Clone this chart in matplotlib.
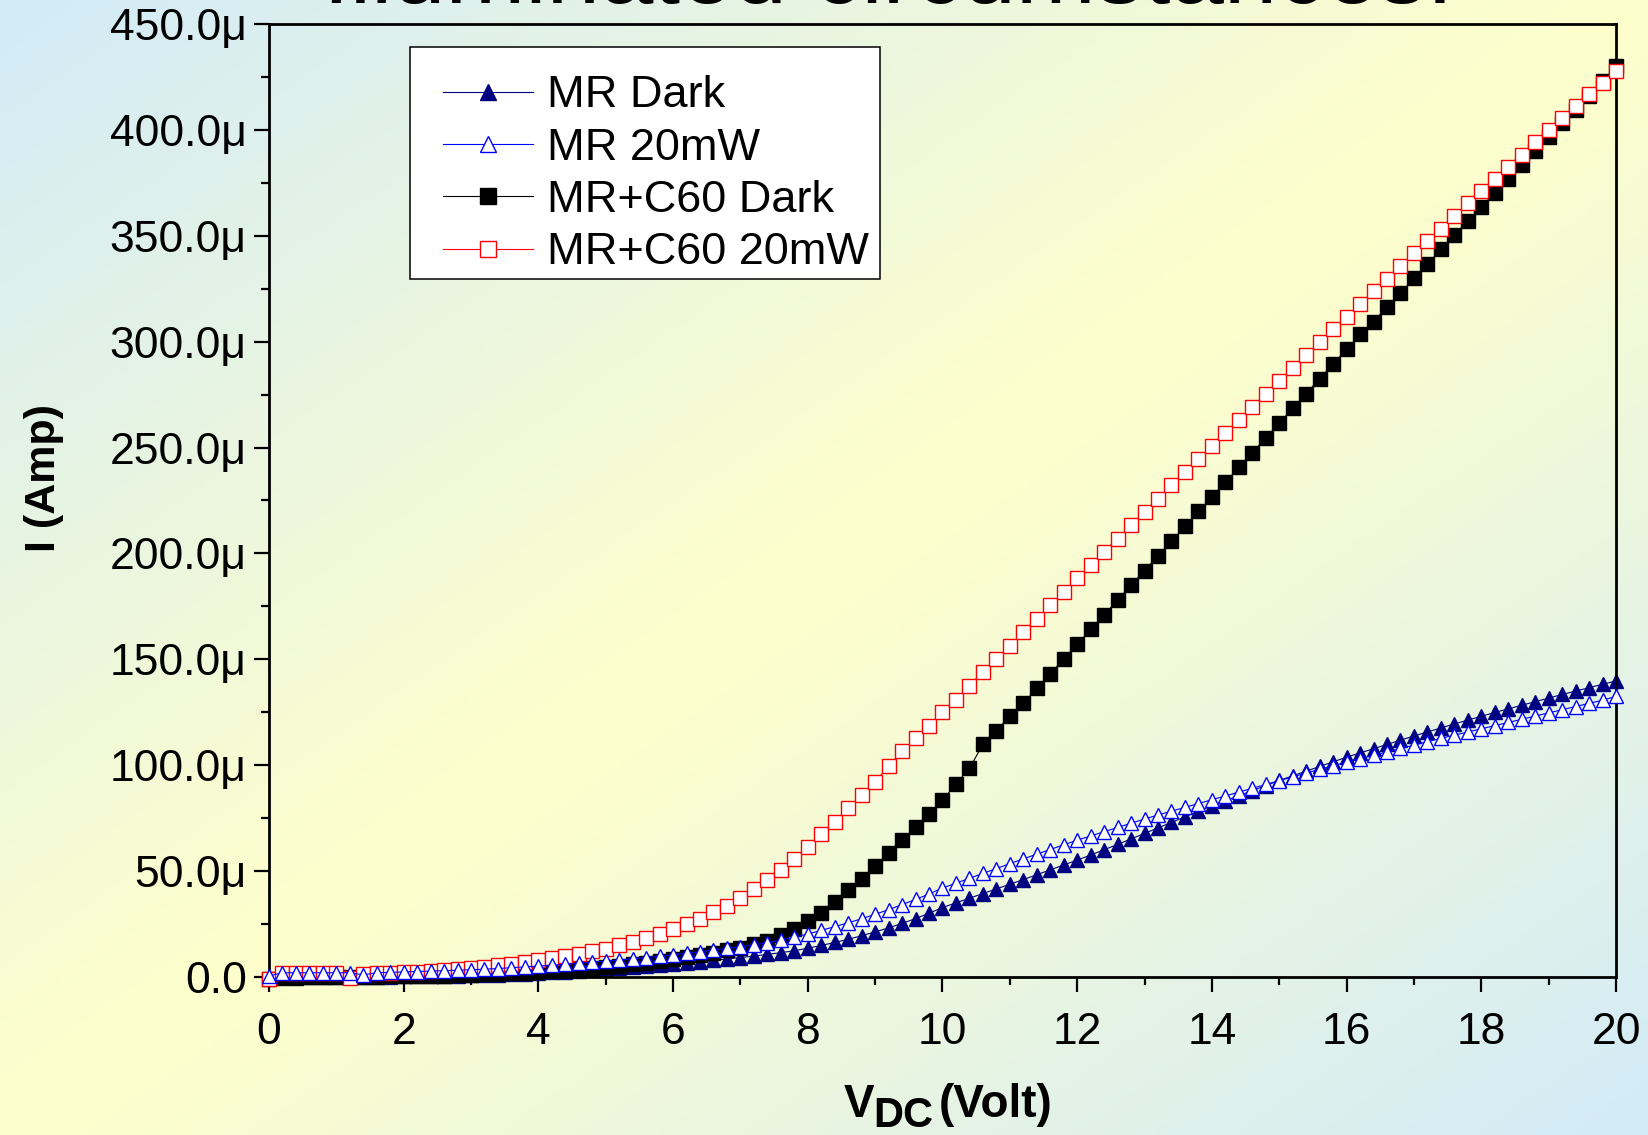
"""I-V curves of MR and MR+C60 devices, dark vs. 20 mW illumination."""

import matplotlib
matplotlib.use("Agg")
import matplotlib.pyplot as plt
import numpy as np
from matplotlib.colors import to_rgb
from matplotlib.patches import Rectangle
from matplotlib.ticker import FuncFormatter, MultipleLocator

plt.rcParams["font.family"] = ["Liberation Sans", "DejaVu Sans"]

# bias sweep, 0.2 V steps
v_dc = np.linspace(0, 20, 101)

# currents in microamps
mr_dark = [
    0.2, 0.0, 0.0, 0.0, 0.0, 0.1, 0.1, 0.1, 0.2, 0.2,
    0.3, 0.3, 0.4, 0.5, 0.6, 0.8, 0.9, 1.1, 1.3, 1.6,
    1.9, 2.2, 2.5, 2.9, 3.3, 3.7, 4.1, 4.6, 5.1, 5.6,
    6.1, 6.7, 7.3, 7.9, 8.5, 9.2, 9.9, 10.7, 11.5, 12.4,
    13.6, 14.9, 16.3, 17.8, 19.5, 21.3, 23.2, 25.3, 27.6, 30.1,
    32.8, 35.0, 37.2, 39.4, 41.6, 43.8, 46.0, 48.3, 50.6, 52.9,
    55.2, 57.6, 60.1, 62.6, 65.2, 67.8, 70.4, 73.0, 75.6, 78.2,
    80.8, 83.2, 85.6, 88.0, 90.4, 92.8, 95.0, 97.2, 99.4, 101.6,
    103.8, 105.8, 107.8, 109.8, 111.8, 113.8, 115.7, 117.6, 119.5, 121.3,
    123.1, 124.9, 126.6, 128.3, 130.0, 131.7, 133.4, 135.0, 136.6, 138.2,
    139.8,
]
mr_20mw = [
    0.5, 2.0, 2.0, 2.0, 2.0, 2.0, 2.0, 1.0, 2.0, 2.2,
    2.4, 2.6, 2.8, 3.0, 3.2, 3.4, 3.7, 4.0, 4.4, 4.8,
    5.2, 5.6, 6.0, 6.5, 7.0, 7.5, 8.0, 8.6, 9.2, 9.8,
    10.5, 11.2, 11.9, 12.7, 13.5, 14.3, 15.2, 16.2, 17.4, 18.8,
    20.3, 22.0, 23.8, 25.6, 27.5, 29.6, 31.8, 34.2, 36.6, 39.2,
    42.0, 44.3, 46.6, 48.9, 51.2, 53.5, 55.8, 58.0, 60.2, 62.4,
    64.6, 66.6, 68.6, 70.6, 72.6, 74.6, 76.5, 78.3, 80.1, 81.9,
    83.7, 85.5, 87.3, 89.1, 90.9, 92.7, 94.5, 96.3, 98.1, 99.8,
    101.5, 103.1, 104.7, 106.3, 107.9, 109.5, 111.1, 112.7, 114.2, 115.7,
    117.2, 118.7, 120.2, 121.7, 123.2, 124.7, 126.2, 127.7, 129.2, 130.7,
    132.5,
]
c60_dark = [
    -1.0, -0.5, -0.3, -0.2, 0.0, 0.0, 0.1, 0.2, 0.2, 0.3,
    0.3, 0.4, 0.5, 0.6, 0.8, 1.0, 1.2, 1.4, 1.7, 2.0,
    2.4, 2.8, 3.2, 3.7, 4.2, 4.8, 5.4, 6.1, 6.8, 7.6,
    8.4, 9.3, 10.3, 11.4, 12.6, 13.9, 15.4, 17.2, 19.6, 22.8,
    26.6, 30.2, 35.3, 41.1, 46.5, 52.3, 58.4, 64.6, 70.7, 77.0,
    83.5, 91.2, 98.5, 109.9, 116.3, 123.2, 129.2, 136.3, 143.2, 150.2,
    157.1, 164.1, 171.0, 178.0, 185.0, 191.9, 198.9, 205.8, 212.8, 219.8,
    226.7, 233.7, 240.6, 247.6, 254.6, 261.5, 268.5, 275.5, 282.5, 289.5,
    296.4, 303.4, 309.4, 316.5, 322.8, 329.9, 336.6, 343.6, 350.2, 357.0,
    363.7, 370.3, 376.8, 383.4, 390.0, 396.7, 403.4, 409.5, 416.0, 423.0,
    430.0,
]
c60_20mw = [
    -1.0, 2.0, 2.0, 2.0, 2.0, 1.8, -0.5, 1.5, 1.8, 2.0,
    2.3, 2.6, 3.0, 3.4, 3.8, 4.3, 4.9, 5.5, 6.2, 7.0,
    8.0, 9.0, 10.1, 11.0, 12.1, 13.4, 15.0, 16.5, 18.3, 20.5,
    22.8, 25.2, 27.4, 30.5, 33.7, 37.4, 41.4, 45.6, 50.4, 55.8,
    61.4, 67.5, 73.3, 79.6, 85.9, 92.2, 99.5, 106.6, 112.7, 118.6,
    125.0, 131.0, 137.5, 144.2, 150.1, 156.4, 162.8, 169.1, 175.5, 181.8,
    188.2, 194.4, 200.8, 207.0, 213.4, 219.6, 225.8, 232.1, 238.3, 244.6,
    250.8, 257.0, 263.1, 269.3, 275.4, 281.5, 287.6, 293.6, 299.6, 305.8,
    311.8, 317.8, 323.9, 329.7, 335.7, 341.7, 347.5, 353.3, 359.3, 365.3,
    371.0, 376.9, 382.6, 388.2, 394.1, 399.9, 405.4, 411.2, 416.8, 422.3,
    427.6,
]

W, H = 1648, 1135
fig = plt.figure(figsize=(W / 100, H / 100), dpi=100)

# diagonal blue -> yellow -> blue backdrop
bg = fig.add_axes([0, 0, 1, 1], zorder=-10)
gx, gy = np.meshgrid(np.linspace(0, 1, 400), np.linspace(0, 1, 300))
t = np.clip(np.abs(gx + gy - 1.0), 0, 1)[..., None]
yellow = np.array(to_rgb("#ffffcc"))
blue = np.array(to_rgb("#d2ebf8"))
bg.imshow(yellow * (1 - t) + blue * t, aspect="auto", extent=[0, 1, 0, 1])
bg.axis("off")

# slide title, mostly above the top edge
fig.text(0.539, 0.9977, "Illuminated circumstances:", fontsize=69,
         ha="center", va="baseline")

ax = fig.add_axes([0.1632, 0.1392, 0.8174, 0.8397])
ax.set_facecolor("none")

common = dict(lw=0.8, ms=10.5, mew=1.0, clip_on=False)
h1, = ax.plot(v_dc, np.array(mr_dark) * 1e-6, color="#000080", marker="^",
              mfc="#000080", mec="#000080", zorder=2.0, label="MR Dark", **common)
h3, = ax.plot(v_dc, np.array(c60_dark) * 1e-6, color="black", marker="s",
              mfc="black", mec="black", zorder=2.3, label="MR+C60 Dark", **common)
h4, = ax.plot(v_dc, np.array(c60_20mw) * 1e-6, color="red", marker="s",
              mfc="white", mec="red", zorder=2.6, label="MR+C60 20mW", **common)
h2, = ax.plot(v_dc, np.array(mr_20mw) * 1e-6, color="blue", marker="^",
              mfc="white", mec="blue", zorder=2.9, label="MR 20mW", **common)

ax.set_xlim(0, 20)
ax.set_ylim(0, 450e-6)
ax.xaxis.set_major_locator(MultipleLocator(2))
ax.xaxis.set_minor_locator(MultipleLocator(1))
ax.yaxis.set_major_locator(MultipleLocator(50e-6))
ax.yaxis.set_minor_locator(MultipleLocator(25e-6))
ax.yaxis.set_major_formatter(
    FuncFormatter(lambda v, _: "0.0" if abs(v) < 1e-9 else f"{v * 1e6:.1f}\u03bc"))
ax.xaxis.set_major_formatter(FuncFormatter(lambda v, _: f"{v:.0f}"))

for sp in ax.spines.values():
    sp.set_linewidth(2.0)
ax.tick_params(which="both", direction="out", width=1.6, labelsize=32)
ax.tick_params(which="major", length=11)
ax.tick_params(which="minor", length=5.5)
ax.tick_params(axis="x", which="major", pad=14)
ax.tick_params(axis="y", which="major", pad=5)

# legend box drawn by hand so the entries can sit where the original has them
def ax_x(px):
    return (px - 269) / 1347


def ax_y(py):
    return (977 - py) / 953


ax.add_patch(Rectangle((ax_x(410), ax_y(279)), 470 / 1347, 232 / 953,
                       transform=ax.transAxes, facecolor="white",
                       edgecolor="black", lw=1.1, zorder=4, clip_on=False))
leg = ax.legend(handles=[h1, h2, h3, h4], loc="upper left",
                bbox_to_anchor=(ax_x(443), ax_y(75.5)), borderaxespad=0,
                borderpad=0, fontsize=32.5, frameon=False, handlelength=2.0,
                handletextpad=0.3, labelspacing=0.25, markerscale=1.15)
leg.set_zorder(5)

fig.text(0.027, 0.579, "I (Amp)", rotation=90, fontsize=31,
         fontweight="bold", ha="center", va="center")

# x label: V with a large DC subscript, then (Volt)
fig.text(844 / W, 1 - 1117 / H, "V", fontsize=33, fontweight="bold",
         ha="left", va="baseline")
fig.text(873 / W, 1 - 1127 / H, "DC", fontsize=30, fontweight="bold",
         ha="left", va="baseline")
fig.text(939 / W, 1 - 1117 / H, "(Volt)", fontsize=33, fontweight="bold",
         ha="left", va="baseline")

fig.savefig("out.png", dpi=100)
